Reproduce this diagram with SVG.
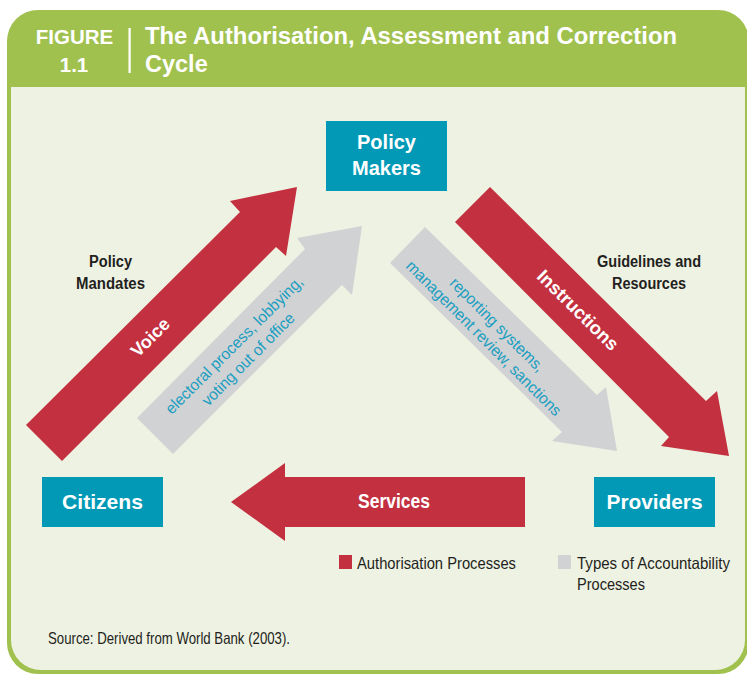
<svg xmlns="http://www.w3.org/2000/svg" width="747" height="675" viewBox="0 0 747 675">
  <style>
    .node { fill: #0199b6; }
    .ntext { font-family: "Liberation Sans", Arial, sans-serif; font-weight: bold; fill: #ffffff; text-anchor: middle; }
    .ctext { font-family: "Liberation Sans Narrow", "Liberation Sans", Arial, sans-serif; font-weight: bold; fill: #ffffff; text-anchor: middle; }
    .red { fill: #c3303f; }
    .grey { fill: #d1d2d4; }
    .gtext { font-family: "Liberation Sans Narrow", "Liberation Sans", Arial, sans-serif; font-size: 16px; fill: #1a9ec1; text-anchor: middle; }
    .label { font-family: "Liberation Sans Narrow", "Liberation Sans", Arial, sans-serif; font-weight: bold; font-size: 16px; fill: #231f20; text-anchor: middle; }
    .legend { font-family: "Liberation Sans Narrow", "Liberation Sans", Arial, sans-serif; font-size: 16.5px; fill: #231f20; }
    .head { font-family: "Liberation Sans", Arial, sans-serif; font-weight: bold; fill: #ffffff; }
  </style>

  <!-- Frame -->
  <g id="frame">
    <rect x="7" y="10" width="742" height="664" rx="31" ry="31" fill="#a1c14f"/>
    <path d="M11,87 H745 V640 A30,30 0 0 1 715,670 H41 A30,30 0 0 1 11,640 Z" fill="#eef2e3"/>
  </g>

  <!-- Header -->
  <g id="header">
    <text class="head" x="74.5" y="44" font-size="20.5" text-anchor="middle">FIGURE</text>
    <text class="head" x="74" y="72" font-size="20.5" text-anchor="middle">1.1</text>
    <rect x="128.5" y="28" width="2.2" height="45" fill="#ffffff"/>
    <text class="head" x="145" y="44" font-size="23.5" textLength="532" lengthAdjust="spacingAndGlyphs">The Authorisation, Assessment and Correction</text>
    <text class="head" x="145" y="72" font-size="23.5">Cycle</text>
  </g>

  <!-- Connectors -->
  <g id="connectors">
    <g id="arrow-voice">
      <polygon class="red" points="26,425 240,212 230,201 297,187 286,256 276,247 62,461"/>
      <text class="ctext" font-size="18" transform="translate(150,337) rotate(-45)" x="0" y="6.5">Voice</text>
    </g>
    <g id="arrow-electoral">
      <polygon class="grey" points="137,418 305,249 297,238 362,226 352,295 342,285 173,454"/>
      <g transform="translate(240,351) rotate(-45)">
        <text class="gtext" x="0" y="-3" textLength="187" lengthAdjust="spacingAndGlyphs">electoral process, lobbying,</text>
        <text class="gtext" x="0" y="17" textLength="124" lengthAdjust="spacingAndGlyphs">voting out of office</text>
      </g>
    </g>
    <g id="arrow-instructions">
      <polygon class="red" points="490,187 706,401 717,391 729,456 661,446 669,437 455,222"/>
      <text class="ctext" font-size="18.5" transform="translate(578,310) rotate(44.5)" x="0" y="6.5" textLength="106" lengthAdjust="spacingAndGlyphs">Instructions</text>
    </g>
    <g id="arrow-reporting">
      <polygon class="grey" points="425,227 597,395 606,387 617,451 552,441 562,432 390,263"/>
      <g transform="translate(492,330) rotate(45)">
        <text class="gtext" x="0" y="-2" textLength="126" lengthAdjust="spacingAndGlyphs">reporting systems,</text>
        <text class="gtext" x="0" y="17" textLength="212" lengthAdjust="spacingAndGlyphs">management review, sanctions</text>
      </g>
    </g>
    <g id="arrow-services">
      <polygon class="red" points="525,477 285,477 285,463 231,502 285,541 285,527 525,527"/>
      <text class="ctext" font-size="20" x="394" y="508" textLength="72" lengthAdjust="spacingAndGlyphs">Services</text>
    </g>
  </g>

  <!-- Nodes -->
  <g id="node-policy-makers">
    <rect class="node" x="326" y="121" width="121" height="70"/>
    <text class="ntext" x="386.5" y="149" font-size="20">Policy</text>
    <text class="ntext" x="386.5" y="175" font-size="20">Makers</text>
  </g>
  <g id="node-citizens">
    <rect class="node" x="42" y="477" width="121" height="50"/>
    <text class="ctext" x="102.5" y="509" font-size="21" textLength="81" lengthAdjust="spacingAndGlyphs">Citizens</text>
  </g>
  <g id="node-providers">
    <rect class="node" x="594" y="477" width="121" height="50"/>
    <text class="ctext" x="654.5" y="509" font-size="21" textLength="96" lengthAdjust="spacingAndGlyphs">Providers</text>
  </g>

  <!-- Side labels -->
  <g id="label-policy-mandates">
    <text class="label" x="110.5" y="267" textLength="43" lengthAdjust="spacingAndGlyphs">Policy</text>
    <text class="label" x="110.5" y="289" textLength="69" lengthAdjust="spacingAndGlyphs">Mandates</text>
  </g>
  <g id="label-guidelines">
    <text class="label" x="649" y="267" textLength="104" lengthAdjust="spacingAndGlyphs">Guidelines and</text>
    <text class="label" x="649" y="289" textLength="74" lengthAdjust="spacingAndGlyphs">Resources</text>
  </g>

  <!-- Legend -->
  <g id="legend">
    <rect class="red" x="339" y="555" width="13" height="14"/>
    <text class="legend" x="357" y="569" textLength="159" lengthAdjust="spacingAndGlyphs">Authorisation Processes</text>
    <rect class="grey" x="558" y="555" width="13" height="14"/>
    <text class="legend" x="577" y="569" textLength="153" lengthAdjust="spacingAndGlyphs">Types of Accountability</text>
    <text class="legend" x="577" y="590" textLength="68" lengthAdjust="spacingAndGlyphs">Processes</text>
  </g>

  <!-- Source -->
  <text id="source" class="legend" x="48" y="644" font-size="15" textLength="242" lengthAdjust="spacingAndGlyphs">Source: Derived from World Bank (2003).</text>
</svg>
